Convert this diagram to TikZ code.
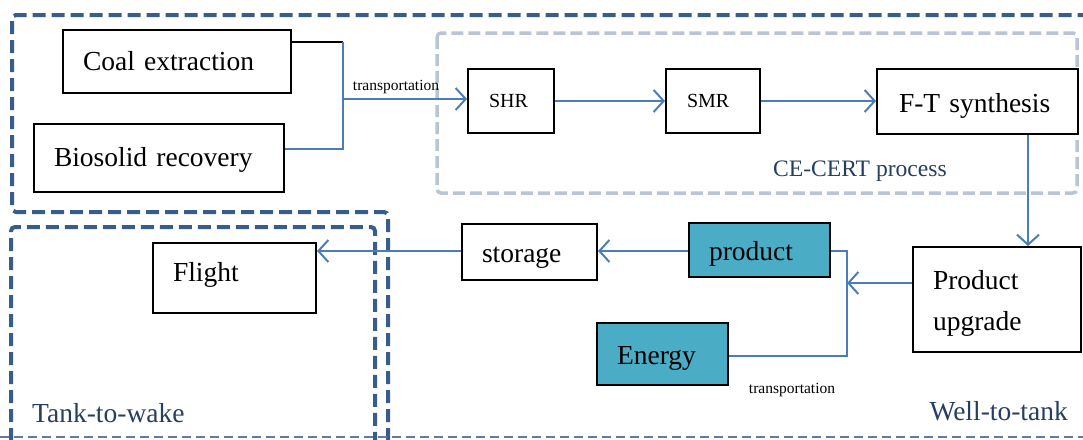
\documentclass[tikz,border=0pt]{standalone}
\usepackage{fontspec}
\setmainfont{Liberation Serif}
\usetikzlibrary{arrows.meta,calc}
\definecolor{frameblue}{HTML}{385D8A}
\definecolor{lightframe}{HTML}{B9C5D6}
\definecolor{conn}{HTML}{4A7EBB}
\definecolor{tealfill}{HTML}{4BACC6}
\definecolor{labelblue}{HTML}{243F60}
\definecolor{thinline}{HTML}{5B7DA8}
\newcommand\lowstrut{\rule{0pt}{27pt}}
\begin{document}
\begin{tikzpicture}[x=1pt,y=-1pt,
  box/.style={draw=black, line width=2pt, fill=white, anchor=north west, align=left,
    inner xsep=20pt, inner ysep=0pt, font=\fontsize{27.5}{41}\selectfont},
  smallbox/.style={box, inner xsep=21pt, font=\fontsize{20}{24}\selectfont},
  tealbox/.style={box, fill=tealfill},
  connline/.style={draw=conn, line width=1.6pt},
  arr/.style={draw=conn, line width=2pt, -{Straight Barb[length=10pt,width=22pt]}},
  bigframe/.style={draw=frameblue, line width=4pt, dash pattern=on 13pt off 6pt, rounded corners=4pt},
  lightbox/.style={draw=lightframe, line width=3.5pt, dash pattern=on 12pt off 5pt, rounded corners=4pt},
  zonelabel/.style={text=labelblue, inner sep=0pt, font=\fontsize{27.5}{30}\selectfont},
  smalllabel/.style={inner sep=0pt, font=\fontsize{15.5}{18}\selectfont}
]
\useasboundingbox (0,0) rectangle (1083,439);
\clip (0,0) rectangle (1083,439);

% frames
\draw[lightbox] (437,33) rectangle (1077,193);
\draw[bigframe] (388,460) -- (388,212) -- (12,212) -- (12,15) -- (1110,15);
\draw[bigframe] (11,460) -- (11,227) -- (375,227) -- (375,460);
\draw[draw=thinline, line width=1.5pt, dash pattern=on 9pt off 5pt] (0,437) -- (1083,437);

% nodes
\node[box, minimum width=228pt, text width=188pt, minimum height=63pt] (coal) at (62,29) {Coal extraction};
\node[box, minimum width=250pt, text width=210pt, minimum height=68pt] (bio) at (33,123) {\rule{0pt}{23pt}Biosolid recovery};
\node[smallbox, minimum width=86pt, text width=44pt, minimum height=64pt] (shr) at (467,68) {SHR};
\node[smallbox, minimum width=94pt, text width=52pt, minimum height=64pt] (smr) at (665,68) {SMR};
\node[box, inner xsep=22pt, minimum width=201pt, text width=157pt, minimum height=65pt] (ft) at (876,68) {\lowstrut F-T synthesis};
\node[box, minimum width=168pt, text width=128pt, minimum height=105pt] (pu) at (912,246) {\lowstrut Product\\upgrade};
\node[tealbox, minimum width=141pt, text width=101pt, minimum height=54pt] (prod) at (688,222) {\lowstrut product};
\node[tealbox, minimum width=131pt, text width=91pt, minimum height=62pt] (energy) at (596,322) {\lowstrut Energy};
\node[box, minimum width=135pt, text width=95pt, minimum height=56pt] (storage) at (461,223) {\lowstrut storage};
\node[box, minimum width=163pt, text width=123pt, minimum height=70pt] (flight) at (152,242) {Flight\rule[-12pt]{0pt}{12pt}};

% labels
\node[zonelabel, font=\fontsize{23.6}{26}\selectfont] (cecert) at (860,171) {CE-CERT process};
\node[zonelabel, anchor=west] (ttw) at (32,413) {Tank-to-wake};
\node[zonelabel, anchor=east] (wtt) at (1068,411) {Well-to-tank};
\node[smalllabel] (t1) at (396,87) {transportation};
\node[smalllabel] (t2) at (792,390) {transportation};

% connector coordinates
\coordinate (cA) at (343,42);
\coordinate (cB) at (343,149);
\coordinate (jA) at (343,99);
\coordinate (cF) at (1028,0);
\coordinate (cG) at (847,283);
\coordinate (cH) at (847,251);
\coordinate (cI) at (847,356);
\coordinate (cJ) at (0,251);

% connectors
\draw[draw=black, line width=1.6pt] (coal.east |- cA) -- (cA);
\draw[connline] (cA) -- (cB) -- (bio.east |- cB);
\draw[arr] (jA) -- (shr.west |- jA);
\draw[arr] (shr.east) -- (smr.west);
\draw[arr] (smr.east) -- (ft.west |- smr.east);
\draw[arr] (ft.south -| cF) -- (pu.north -| cF);
\draw[arr] (pu.west |- cG) -- (cG);
\draw[connline] (prod.east |- cH) -- (cH) -- (cI) -- (energy.east |- cI);
\draw[arr] (prod.west |- cJ) -- (storage.east |- cJ);
\draw[arr] (storage.west |- cJ) -- (flight.east |- cJ);
\end{tikzpicture}
\end{document}
